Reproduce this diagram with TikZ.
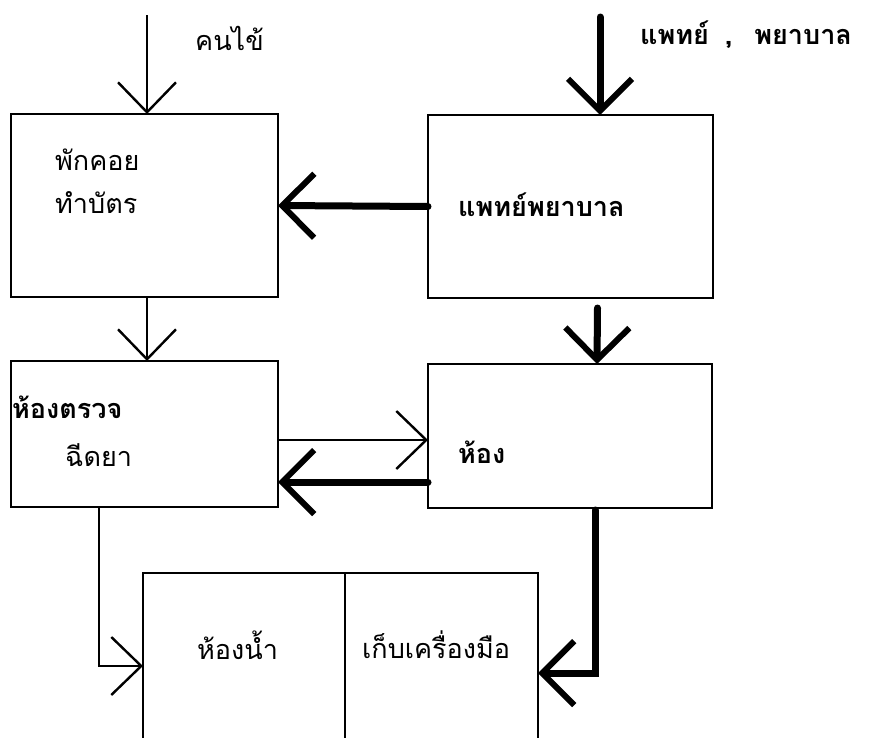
\documentclass[tikz,border=0pt]{standalone}
\usepackage{fontspec}
\newfontfamily\thaifont[Script=Thai]{Loma}
\usepackage{tikz}
\usetikzlibrary{arrows.meta,positioning,calc}

\begin{document}
\begin{tikzpicture}[x=1pt,y=-1pt,
  font=\thaifont\fontsize{27pt}{32pt}\selectfont,
  room/.style={draw=black,line width=2.2pt,inner sep=0pt,outer sep=0pt},
  lbl/.style={inner sep=0pt,anchor=west},
  heavy/.style={lbl,font=\thaifont\fontsize{27pt}{32pt}\selectfont\bfseries},
  thinarr/.style={line width=2.2pt,draw=black,
    -{Straight Barb[length=30pt,width=58pt,line width=2.4pt]}},
  thickarr/.style={line width=7pt,draw=black,line cap=round,
    -{Straight Barb[length=32pt,width=64pt,line width=6pt]}}]

  \clip (0,0) rectangle (876,737);

  % rooms
  \node[room,minimum width=267pt,minimum height=183pt] (wait) at (144.5,205.5) {};
  \node[room,minimum width=285pt,minimum height=183pt] (doctor) at (570.5,206.5) {};
  \node[room,minimum width=267pt,minimum height=146pt] (exam) at (144.5,434) {};
  \node[room,minimum width=284pt,minimum height=144pt] (ward) at (570,436) {};
  \node[room,minimum width=202pt,minimum height=180pt] (bath) at (244,663) {};
  \node[room,minimum width=193pt,minimum height=180pt] (store) at (441.5,663) {};

  % labels
  \node[lbl] (patient) at (195,38) {คนไข้};
  \node[heavy] (staff) at (640,35) {แพทย์\hspace{0.6em},\hspace{0.8em}พยาบาล};
  \node[lbl] (waitA) at (55,160) {พักคอย};
  \node[lbl] (waitB) at (55,203) {ทำบัตร};
  \node[heavy] (doctorlbl) at (458,205) {แพทย์พยาบาล};
  \node[heavy] (examA) at (12,407) {ห้องตรวจ};
  \node[lbl] (examB) at (65,455) {ฉีดยา};
  \node[heavy] (wardlbl) at (458,452) {ห้อง};
  \node[lbl] (bathlbl) at (197,645) {ห้องน้ำ};
  \node[lbl] (storelbl) at (362,645) {เก็บเครื่องมือ};

  % flows
  \coordinate (pin) at (147,15);
  \coordinate (sin) at (600,17);
  \draw[thinarr] (pin) -- (pin |- wait.north);
  \draw[thickarr] (sin) -- (sin |- doctor.north);
  \draw[thickarr] (doctor.west) -- (wait.east);
  \draw[thinarr] ($(wait.south)+(2.5,0)$) -- ($(exam.north)+(2.5,0)$);
  \draw[thickarr] ($(doctor.south)+(27,10)$) -- ($(ward.north)+(27,0)$);
  \draw[thinarr] ($(exam.east)+(0,6)$) -- ($(ward.west)+(0,4)$);
  \draw[thickarr] ($(ward.west)+(0,46)$) -- ($(exam.east)+(0,48)$);
  \draw[thinarr] ($(exam.south west)+(88,0)$) |- ($(bath.west)+(0,3)$);
  \draw[thickarr] ($(ward.south)+(25,2)$) |- ($(store.east)+(0,10)$);
\end{tikzpicture}
\end{document}
